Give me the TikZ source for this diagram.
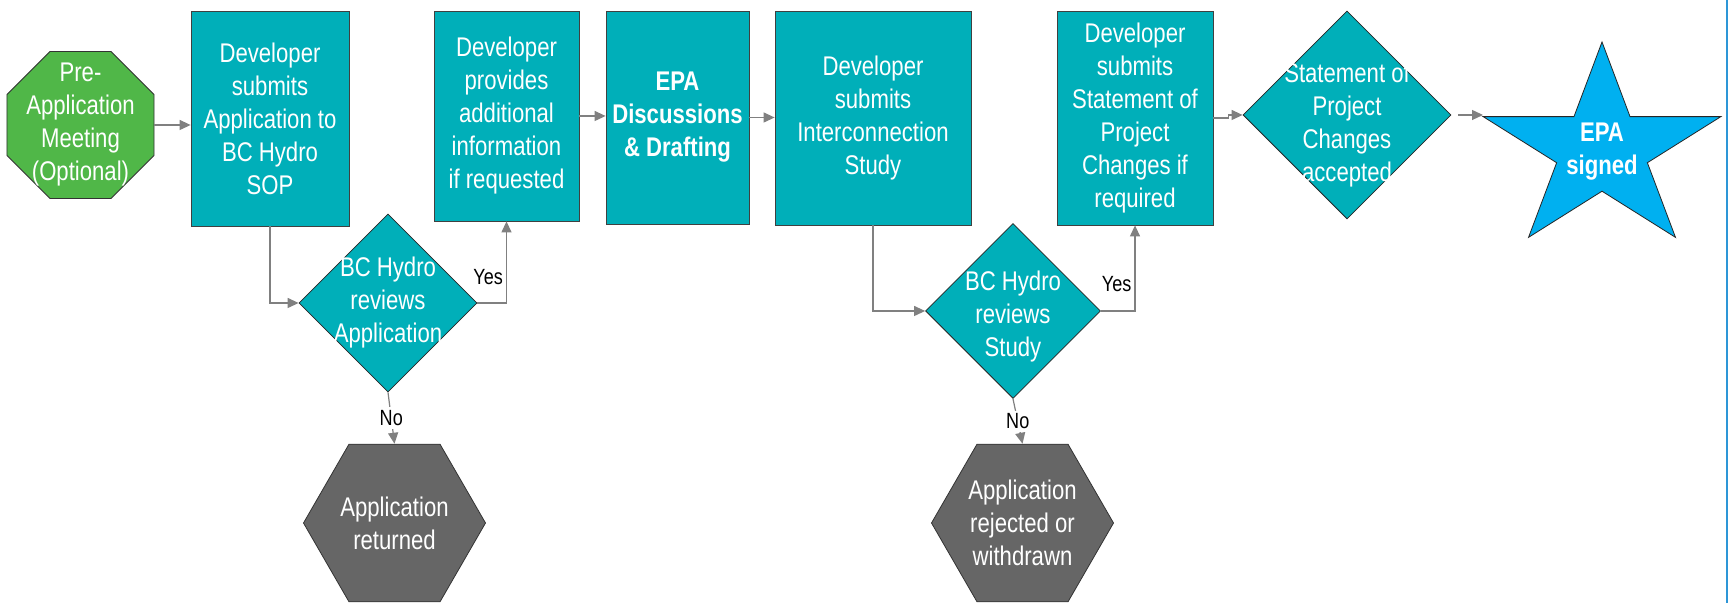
\documentclass[tikz,border=0pt]{standalone}
\usepackage{fontspec}
\setmainfont{Liberation Sans}[FakeStretch=0.82]
\usepackage{tikz}
\usetikzlibrary{shapes.geometric,arrows.meta}
\definecolor{hydroteal}{RGB}{0, 175, 185}
\definecolor{meetgreen}{RGB}{80, 183, 72}
\definecolor{endgray}{RGB}{102, 102, 102}
\definecolor{epablue}{RGB}{0, 176, 240}
\definecolor{linkgray}{RGB}{128, 128, 128}
\definecolor{edgeblue}{RGB}{45, 150, 215}

\begin{document}
\begin{tikzpicture}[x=0.5pt, y=0.5pt,
        every node/.style={font=\fontsize{13.5}{16.5}\selectfont},
        txt/.style={text=white, align=center, inner sep=0pt},
        boldtxt/.style={txt, font=\fontsize{13.5}{16.5}\selectfont\bfseries},
        stepbox/.style={rectangle, draw=black!75, fill=hydroteal, txt},
        meeting/.style={regular polygon, regular polygon sides=8, minimum size=79.6pt, draw=black!80, fill=meetgreen, inner sep=0pt},
        decision/.style={diamond, draw=black!85, fill=hydroteal, inner sep=0pt, minimum width=#1, minimum height=#1},
        endhex/.style={regular polygon, regular polygon sides=6, minimum size=91pt, draw=black!80, fill=endgray, txt},
        link/.style={draw=linkgray, line width=0.6pt, -{Triangle[length=5.5pt, width=5pt]}},
        answer/.style={text=black, font=\fontsize{11}{13}\selectfont, inner sep=1.5pt}
    ]
            % Frame to fix the page size:
            \fill[white]                                       (   0,   0) rectangle (1729, 603);
            \useasboundingbox                                  (   0,   0) rectangle (1729, 603);
            \draw[edgeblue, line width=1pt]                    (1727,   0) --        (1727, 603);

            % Top row of steps
            \node[meeting]                                         (pre)  at (  80.5, 478.0) {};
            \node[txt]                                             (pret) at (pre)           {Pre-\\Application\\Meeting\\(Optional)};
            \node[stepbox, minimum width=79pt,   minimum height=107.5pt] (sop)  at ( 270.0, 484.5) {Developer\\submits\\Application to\\BC Hydro\\SOP};
            \node[stepbox, minimum width=72.5pt, minimum height=105pt]   (info) at ( 506.5, 487.0) {Developer\\provides\\additional\\information\\if requested};
            \node[stepbox, minimum width=71.5pt, minimum height=106.5pt, font=\fontsize{13.5}{16.5}\selectfont\bfseries] (epad) at ( 677.5, 485.5) {EPA\\Discussions\\\& Drafting};
            \node[stepbox, minimum width=98pt,   minimum height=107pt]   (ics)  at ( 873.0, 485.0) {Developer\\submits\\Interconnection\\Study};
            \node[stepbox, minimum width=78pt,   minimum height=107pt]   (stmt) at (1135.0, 485.0) {Developer\\submits\\Statement of\\Project\\Changes if\\required};
            \node[decision=104pt]                                  (acc)  at (1347.0, 488.0) {};
            \node[txt]                                             (acct) at ([yshift=-5pt]acc.center) {Statement of\\Project\\Changes\\accepted};

            % Star (slightly flattened)
            \coordinate (epac)   at (1602, 453);
            \coordinate (epatip) at (1483, 486);
            \filldraw[draw=black!85, fill=epablue, shift={(epac)}, yscale=0.864]
                (90:125) \foreach \k in {1,...,9} { -- ({90+36*\k}:{ifthenelse(isodd(\k),47.7,125)}) } -- cycle;
            \node[boldtxt]                                         (epa)  at ([yshift=-1pt]epac) {EPA\\signed};

            % Reviews and dead ends
            \node[decision=89pt]                                   (rev1)  at ( 388.0, 300.0) {};
            \node[txt]                                             (rev1t) at (rev1)          {BC Hydro\\reviews\\Application};
            \node[decision=87.5pt]                                 (rev2)  at (1013.0, 292.0) {};
            \node[txt]                                             (rev2t) at ([yshift=-3pt]rev2.center) {BC Hydro\\reviews\\Study};
            \node[endhex]                                          (ret)   at ( 394.5,  80.0) {Application\\returned};
            \node[endhex]                                          (rej)   at (1022.5,  80.0) {Application\\rejected or\\withdrawn};

            % Connectors
            \draw[link] (pre.east)  -- (pre.east -| sop.west);
            \draw[link] (sop.south) |- (rev1.west);
            \draw[link] (rev1.east) -| node[answer, left, pos=0.66] (yes1) {Yes} (info.south);
            \draw[link] (rev1.south) -- node[answer, fill=white] (no1) {No} (ret.north);
            \draw[link] (info.east) -- (info.east -| epad.west);
            \draw[link] (epad.east) -- (epad.east -| ics.west);
            \draw[link] (ics.south) |- (rev2.west);
            \draw[link] (rev2.east) -| node[answer, left, pos=0.66] (yes2) {Yes} (stmt.south);
            \draw[link] (rev2.south) -- node[answer, fill=white] (no2) {No} (rej.north);
            \draw[link] (stmt.east) -- ++(15,0) |- (acc.west);
            \draw[link] ([xshift=3.5pt]acc.east) -- (acc.east -| epatip);
        \end{tikzpicture}
\end{document}
